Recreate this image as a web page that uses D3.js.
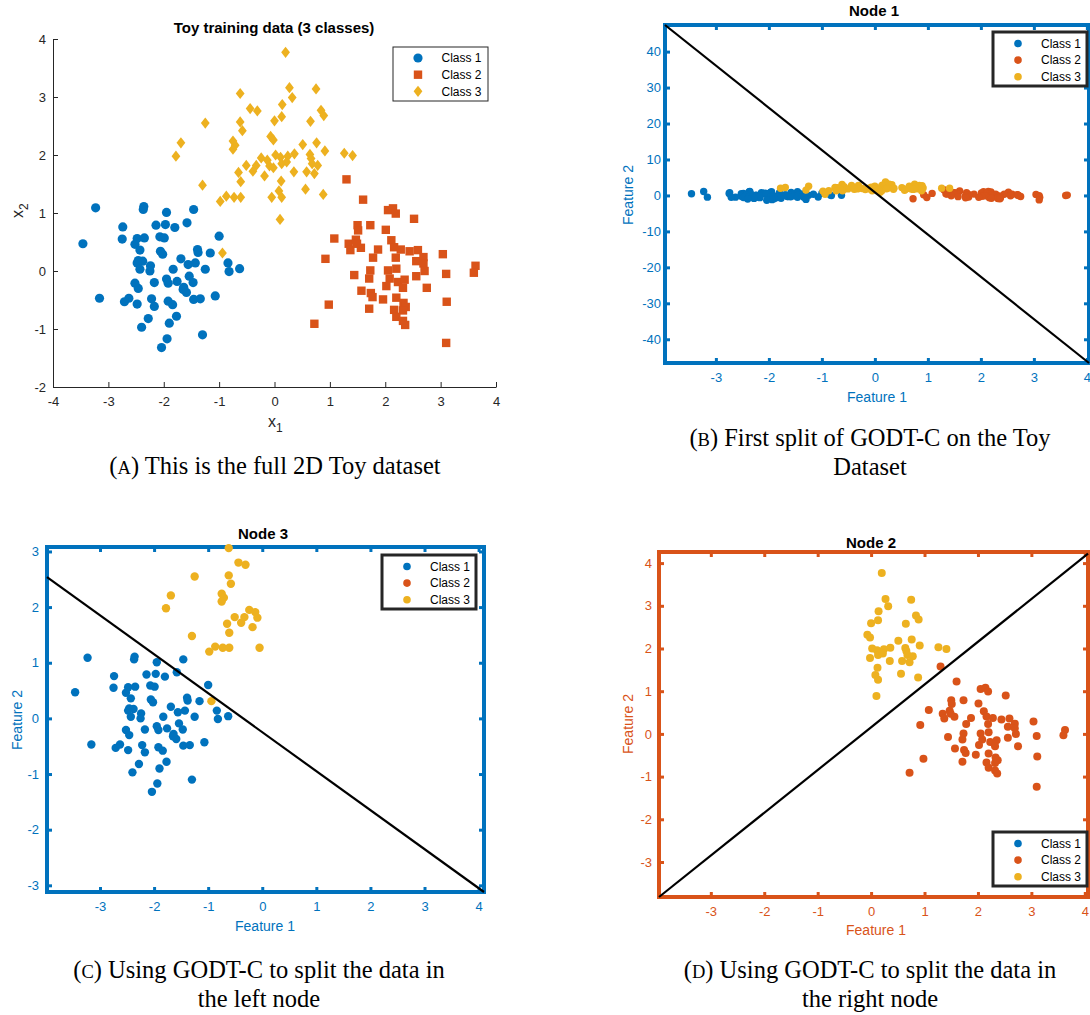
<!DOCTYPE html>
<html lang="en">
<head>
<meta charset="UTF-8">
<title>GODT-C toy splits</title>
<script src="https://d3js.org/d3.v7.min.js"></script>
<style>
    body {
        margin: 0;
        padding: 0;
        background: #fff;
    }
    svg text {
        font-family: "Liberation Sans", Arial, Helvetica, sans-serif;
    }
    .cap {
        font-family: "Liberation Serif", "DejaVu Serif", serif;
    }
</style>
</head>
<body>
<svg id="fig" width="1090" height="1015"></svg>
<script>
    // ---- data ----
    var class1 = [
        [-3.23, 1.09], [-2.36, 1.11], [-2.37, 1.06], [-1.95, 1.01], [-1.46, 1.06],
        [-2.74, 0.76], [-2.14, 0.79], [-1.97, 0.80], [-1.80, 0.75], [-1.58, 0.83],
        [-1.00, 0.60], [-3.46, 0.47], [-2.75, 0.55], [-2.48, 0.56], [-2.35, 0.57],
        [-2.52, 0.46], [-2.07, 0.59], [-1.99, 0.57], [-2.43, 0.36], [-2.06, 0.34],
        [-2.02, 0.29], [-1.39, 0.37], [-1.38, 0.32], [-1.16, 0.31], [-1.69, 0.21],
        [-1.56, 0.11], [-1.43, 0.14], [-0.84, 0.14], [-0.82, -0.01], [-0.63, 0.04],
        [-1.25, 0.03], [-2.46, 0.18], [-2.38, 0.17], [-2.48, 0.14], [-2.24, 0.09],
        [-2.43, 0.03], [-2.25, 0.00], [-1.83, 0.03], [-2.52, -0.21], [-2.46, -0.30],
        [-2.17, -0.20], [-1.95, -0.14], [-1.92, -0.21], [-1.76, -0.18], [-1.54, -0.09],
        [-1.47, -0.20], [-1.64, -0.28], [-1.65, -0.32], [-1.59, -0.37], [-2.63, -0.47],
        [-2.71, -0.53], [-2.48, -0.57], [-2.22, -0.48], [-2.17, -0.61], [-1.46, -0.49],
        [-1.34, -0.48], [-1.07, -0.43], [-1.92, -0.52], [-1.84, -0.58], [-3.16, -0.47],
        [-2.28, -0.82], [-1.77, -0.78], [-2.40, -0.97], [-1.90, -0.90], [-1.94, -1.17],
        [-1.30, -1.10], [-2.04, -1.32]
    ];

    var class2 = [
        [1.30, 1.58], [1.60, 1.23], [2.05, 1.05], [2.14, 1.08], [2.19, 0.99], [2.52, 0.90],
        [1.50, 0.79], [1.51, 0.70], [1.73, 0.79], [2.01, 0.71], [1.08, 0.56], [1.34, 0.47],
        [1.47, 0.54], [1.37, 0.36], [1.56, 0.40], [1.49, 0.47], [1.87, 0.37], [2.11, 0.53],
        [2.16, 0.41], [2.28, 0.37], [2.19, 0.23], [2.44, 0.34], [2.59, 0.36], [2.56, 0.17],
        [2.69, 0.24], [2.69, 0.13], [2.71, 0.00], [3.04, 0.29], [3.10, -0.05], [1.78, 0.23],
        [0.92, 0.21], [1.44, -0.07], [1.73, 0.01], [1.71, -0.13], [2.05, 0.01], [2.20, 0.04],
        [2.08, -0.13], [2.23, -0.19], [2.35, -0.15], [2.32, -0.29], [2.56, -0.09], [2.02, -0.26],
        [2.75, -0.29], [3.63, 0.09], [3.60, -0.03], [1.57, -0.34], [1.74, -0.38], [1.77, -0.45],
        [1.96, -0.49], [2.20, -0.46], [0.98, -0.58], [1.71, -0.65], [2.16, -0.67], [2.33, -0.55],
        [2.37, -0.62], [2.32, -0.68], [3.11, -0.53], [2.20, -0.79], [2.32, -0.86], [2.36, -0.93],
        [0.72, -0.91], [3.10, -1.24]
    ];

    // class 3 points that go to the left node (Node 3) and to the right node (Node 2)
    var class3Left = [
        [-0.62, 3.06], [-0.44, 2.80], [-0.31, 2.76], [-0.62, 2.57], [-0.58, 2.42],
        [-1.25, 2.55], [-1.69, 2.21], [-1.78, 1.98], [-0.75, 2.24], [-0.71, 2.17],
        [-0.75, 2.10], [-0.24, 1.95], [-0.13, 1.91], [-0.51, 1.82], [-0.33, 1.82],
        [-0.39, 1.72], [-0.09, 1.81], [-0.65, 1.70], [-0.18, 1.64], [-0.61, 1.54],
        [-1.30, 1.48], [-0.98, 1.20], [-0.87, 1.29], [-0.73, 1.27], [-0.61, 1.27],
        [-0.05, 1.27], [-0.94, 0.31]
    ];

    var class3Right = [
        [0.20, 3.77], [0.27, 3.16], [0.32, 2.99], [0.14, 2.87], [0.00, 2.59],
        [0.13, 2.66], [-0.07, 2.32], [-0.02, 2.26], [0.02, 2.00], [0.11, 1.96],
        [0.24, 1.98], [0.36, 2.02], [0.13, 1.85], [0.22, 1.88], [0.35, 1.71],
        [0.12, 1.55], [0.13, 1.27], [0.08, 1.38], [-0.02, 1.78], [0.75, 3.14],
        [0.84, 2.77], [0.89, 2.68], [0.65, 2.58], [0.51, 2.18], [0.76, 2.21],
        [0.91, 2.07], [0.64, 2.01], [0.66, 1.94], [0.68, 1.85], [0.78, 1.82],
        [0.58, 1.71], [0.72, 1.68], [1.26, 2.03], [1.41, 1.99], [0.56, 1.41],
        [0.88, 1.32], [0.10, 0.89]
    ];

    var classNames = ['Class 1', 'Class 2', 'Class 3'];
    var colors = ['#0072BD', '#D95319', '#EDB120'];

    var ticksAx = [-4, -3, -2, -1, 0, 1, 2, 3, 4];
    var ticksAy = [-2, -1, 0, 1, 2, 3, 4];
    var ticksNodeX = [-3, -2, -1, 0, 1, 2, 3, 4];
    var ticksBy = [-40, -30, -20, -10, 0, 10, 20, 30, 40];
    var ticksCy = [-3, -2, -1, 0, 1, 2, 3];
    var ticksDy = [-3, -2, -1, 0, 1, 2, 3, 4];

    // axis limits and split lines (end points) of each node
    var limBx = [-3.96, 4.04], limBy = [-46.6, 47.4];
    var limCx = [-3.98, 4.10], limCy = [-3.12, 3.08];
    var limDx = [-3.97, 4.06], limDy = [-3.82, 4.26];
    var splitB = [[-3.96, 47.4], [4.04, -46.6]];
    var splitC = [[-3.98, 2.54], [4.10, -3.12]];
    var splitD = [[-3.97, -3.82], [4.06, 4.22]];

    var class3 = class3Left.concat(class3Right);

    var svg = d3.select('#fig');
    var fmt = function(d) { return String(d); };

    // ---- panel A ----
    function panelA() {
        var left = 53, right = 496, top = 39, bottom = 387;
        var x = d3.scaleLinear().domain([-4, 4]).range([left, right]);
        var y = d3.scaleLinear().domain([-2, 4]).range([bottom, top]);
        var g = svg.append('g');

        var xa = g.append('g').attr('transform', 'translate(0,' + bottom + ')')
            .call(d3.axisBottom(x).tickValues(ticksAx).tickSize(-5).tickSizeOuter(0).tickPadding(10).tickFormat(fmt));
        var ya = g.append('g').attr('transform', 'translate(' + left + ',0)')
            .call(d3.axisLeft(y).tickValues(ticksAy).tickSize(-5).tickSizeOuter(0).tickPadding(7).tickFormat(fmt));
        [xa, ya].forEach(function(a) {
            a.attr('color', '#262626').attr('font-size', 13).attr('font-family', null);
            a.select('.domain').attr('stroke-width', 1);
        });

        g.append('text').attr('x', 274).attr('y', 33).attr('text-anchor', 'middle')
            .attr('font-size', 15).attr('font-weight', 'bold').text('Toy training data (3 classes)');

        var xl = g.append('text').attr('x', 268).attr('y', 427).attr('font-size', 16).attr('fill', '#262626');
        xl.append('tspan').text('x');
        xl.append('tspan').attr('dy', 5).attr('font-size', 12).text('1');

        var yl = g.append('text').attr('transform', 'translate(23,218) rotate(-90)').attr('font-size', 16).attr('fill', '#262626');
        yl.append('tspan').text('x');
        yl.append('tspan').attr('dy', 5).attr('font-size', 12).text('2');

        g.append('g').selectAll('circle').data(class1).enter().append('circle')
            .attr('cx', function(d) { return x(d[0]); })
            .attr('cy', function(d) { return y(d[1]); })
            .attr('r', 4.6).attr('fill', colors[0]);

        g.append('g').selectAll('rect').data(class2).enter().append('rect')
            .attr('x', function(d) { return x(d[0]) - 4.2; })
            .attr('y', function(d) { return y(d[1]) - 4.2; })
            .attr('width', 8.4).attr('height', 8.4).attr('fill', colors[1]);

        g.append('g').selectAll('path').data(class3).enter().append('path')
            .attr('d', 'M0,-5.6L4.4,0L0,5.6L-4.4,0Z')
            .attr('transform', function(d) { return 'translate(' + x(d[0]) + ',' + y(d[1]) + ')'; })
            .attr('fill', colors[2]);

        // legend
        var lg = g.append('g').attr('transform', 'translate(393,47)');
        lg.append('rect').attr('width', 95).attr('height', 54).attr('fill', '#fff')
            .attr('stroke', '#262626').attr('stroke-width', 1);
        lg.append('circle').attr('cx', 25).attr('cy', 11).attr('r', 4.6).attr('fill', colors[0]);
        lg.append('rect').attr('x', 25 - 4.2).attr('y', 27.7 - 4.2).attr('width', 8.4).attr('height', 8.4).attr('fill', colors[1]);
        lg.append('path').attr('d', 'M0,-5.6L4.4,0L0,5.6L-4.4,0Z').attr('transform', 'translate(25,44.3)').attr('fill', colors[2]);
        lg.selectAll('text').data(classNames).enter().append('text')
            .attr('x', 48.5).attr('y', function(d, i) { return 11 + i * 16.65 + 4.3; })
            .attr('font-size', 12).attr('fill', '#000').text(function(d) { return d; });
    }

    // ---- node panels ----
    function nodePanel(p) {
        var x = d3.scaleLinear().domain(p.xd).range([p.left, p.right]);
        var y = d3.scaleLinear().domain(p.yd).range([p.bottom, p.top]);
        var g = svg.append('g');

        g.append('rect').attr('x', p.left).attr('y', p.top)
            .attr('width', p.right - p.left).attr('height', p.bottom - p.top)
            .attr('fill', 'none').attr('stroke', p.color).attr('stroke-width', 4);

        var axes = [
            g.append('g').attr('transform', 'translate(0,' + p.bottom + ')')
                .call(d3.axisBottom(x).tickValues(ticksNodeX).tickSize(-5).tickSizeOuter(0).tickPadding(10).tickFormat(fmt)),
            g.append('g').attr('transform', 'translate(0,' + p.top + ')')
                .call(d3.axisTop(x).tickValues(ticksNodeX).tickSize(-5).tickSizeOuter(0).tickFormat('')),
            g.append('g').attr('transform', 'translate(' + p.left + ',0)')
                .call(d3.axisLeft(y).tickValues(p.yt).tickSize(-5).tickSizeOuter(0).tickPadding(p.ypad).tickFormat(fmt)),
            g.append('g').attr('transform', 'translate(' + p.right + ',0)')
                .call(d3.axisRight(y).tickValues(p.yt).tickSize(-5).tickSizeOuter(0).tickFormat(''))
        ];
        axes.forEach(function(a) {
            a.attr('color', p.color).attr('font-size', 13).attr('font-family', null);
            a.select('.domain').remove();
            a.selectAll('.tick line').attr('stroke-width', 3);
        });

        g.append('text').attr('x', p.titleX).attr('y', p.titleY).attr('text-anchor', 'middle')
            .attr('font-size', 15).attr('font-weight', 'bold').text(p.title);
        g.append('text').attr('x', p.xlX).attr('y', p.xlY).attr('text-anchor', 'middle')
            .attr('font-size', 14).attr('fill', p.color).text('Feature 1');
        g.append('text').attr('transform', 'translate(' + p.ylX + ',' + p.ylY + ') rotate(-90)')
            .attr('text-anchor', 'middle').attr('font-size', 14).attr('fill', p.color).text('Feature 2');

        p.series.forEach(function(s) {
            g.append('g').selectAll('circle').data(s.pts).enter().append('circle')
                .attr('cx', function(d) { return x(d[0]); })
                .attr('cy', function(d) { return y(d[1]); })
                .attr('r', p.r).attr('fill', colors[s.c]);
        });

        g.append('line')
            .attr('x1', x(p.line[0][0])).attr('y1', y(p.line[0][1]))
            .attr('x2', x(p.line[1][0])).attr('y2', y(p.line[1][1]))
            .attr('stroke', '#000').attr('stroke-width', 2.2);

        var lg = g.append('g').attr('transform', 'translate(' + p.leg[0] + ',' + p.leg[1] + ')');
        lg.append('rect').attr('width', 94).attr('height', 54).attr('fill', '#fff')
            .attr('stroke', '#262626').attr('stroke-width', 3);
        lg.selectAll('circle').data(classNames).enter().append('circle')
            .attr('cx', 25).attr('cy', function(d, i) { return 11.5 + i * 16.6; })
            .attr('r', 3.8).attr('fill', function(d, i) { return colors[i]; });
        lg.selectAll('text').data(classNames).enter().append('text')
            .attr('x', 48).attr('y', function(d, i) { return 11.5 + i * 16.6 + 4.3; })
            .attr('font-size', 12).attr('fill', '#000').text(function(d) { return d; });
    }

    function caption(cx, y, letter, lines) {
        var t = svg.append('text').attr('class', 'cap').attr('text-anchor', 'middle')
            .attr('font-size', 24.5).attr('fill', '#000');
        lines.forEach(function(l, i) {
            var ts = t.append('tspan').attr('x', cx).attr('y', y + i * 28.5);
            if (i === 0) {
                ts.text('(');
                t.append('tspan').attr('font-size', 18.5).text(letter);
                t.append('tspan').text(') ' + l);
            } else {
                ts.text(l);
            }
        });
    }

    panelA();

    nodePanel({
        left: 665, right: 1089, top: 25, bottom: 363, xd: limBx, yd: limBy, yt: ticksBy, ypad: 4,
        color: colors[0], title: 'Node 1', titleX: 874, titleY: 16,
        xlX: 877, xlY: 402, ylX: 633, ylY: 195, r: 3.7,
        series: [{ pts: class1, c: 0 }, { pts: class2, c: 1 }, { pts: class3, c: 2 }],
        line: splitB, leg: [993, 32]
    });

    nodePanel({
        left: 47, right: 484, top: 547, bottom: 892, xd: limCx, yd: limCy, yt: ticksCy, ypad: 8,
        color: colors[0], title: 'Node 3', titleX: 263, titleY: 539,
        xlX: 265, xlY: 931, ylX: 22, ylY: 720, r: 4.2,
        series: [{ pts: class1, c: 0 }, { pts: class3Left, c: 2 }],
        line: splitC, leg: [382, 555]
    });

    nodePanel({
        left: 659, right: 1088, top: 552, bottom: 897, xd: limDx, yd: limDy, yt: ticksDy, ypad: 7,
        color: colors[1], title: 'Node 2', titleX: 871, titleY: 548,
        xlX: 876, xlY: 935, ylX: 633, ylY: 724, r: 4,
        series: [{ pts: class2, c: 1 }, { pts: class3Right, c: 2 }],
        line: splitD, leg: [993, 832]
    });

    caption(275, 474, 'A', ['This is the full 2D Toy dataset']);
    caption(870, 446, 'B', ['First split of GODT-C on the Toy', 'Dataset']);
    caption(259, 978, 'C', ['Using GODT-C to split the data in', 'the left node']);
    caption(870, 978, 'D', ['Using GODT-C to split the data in', 'the right node']);
</script>
</body>
</html>
